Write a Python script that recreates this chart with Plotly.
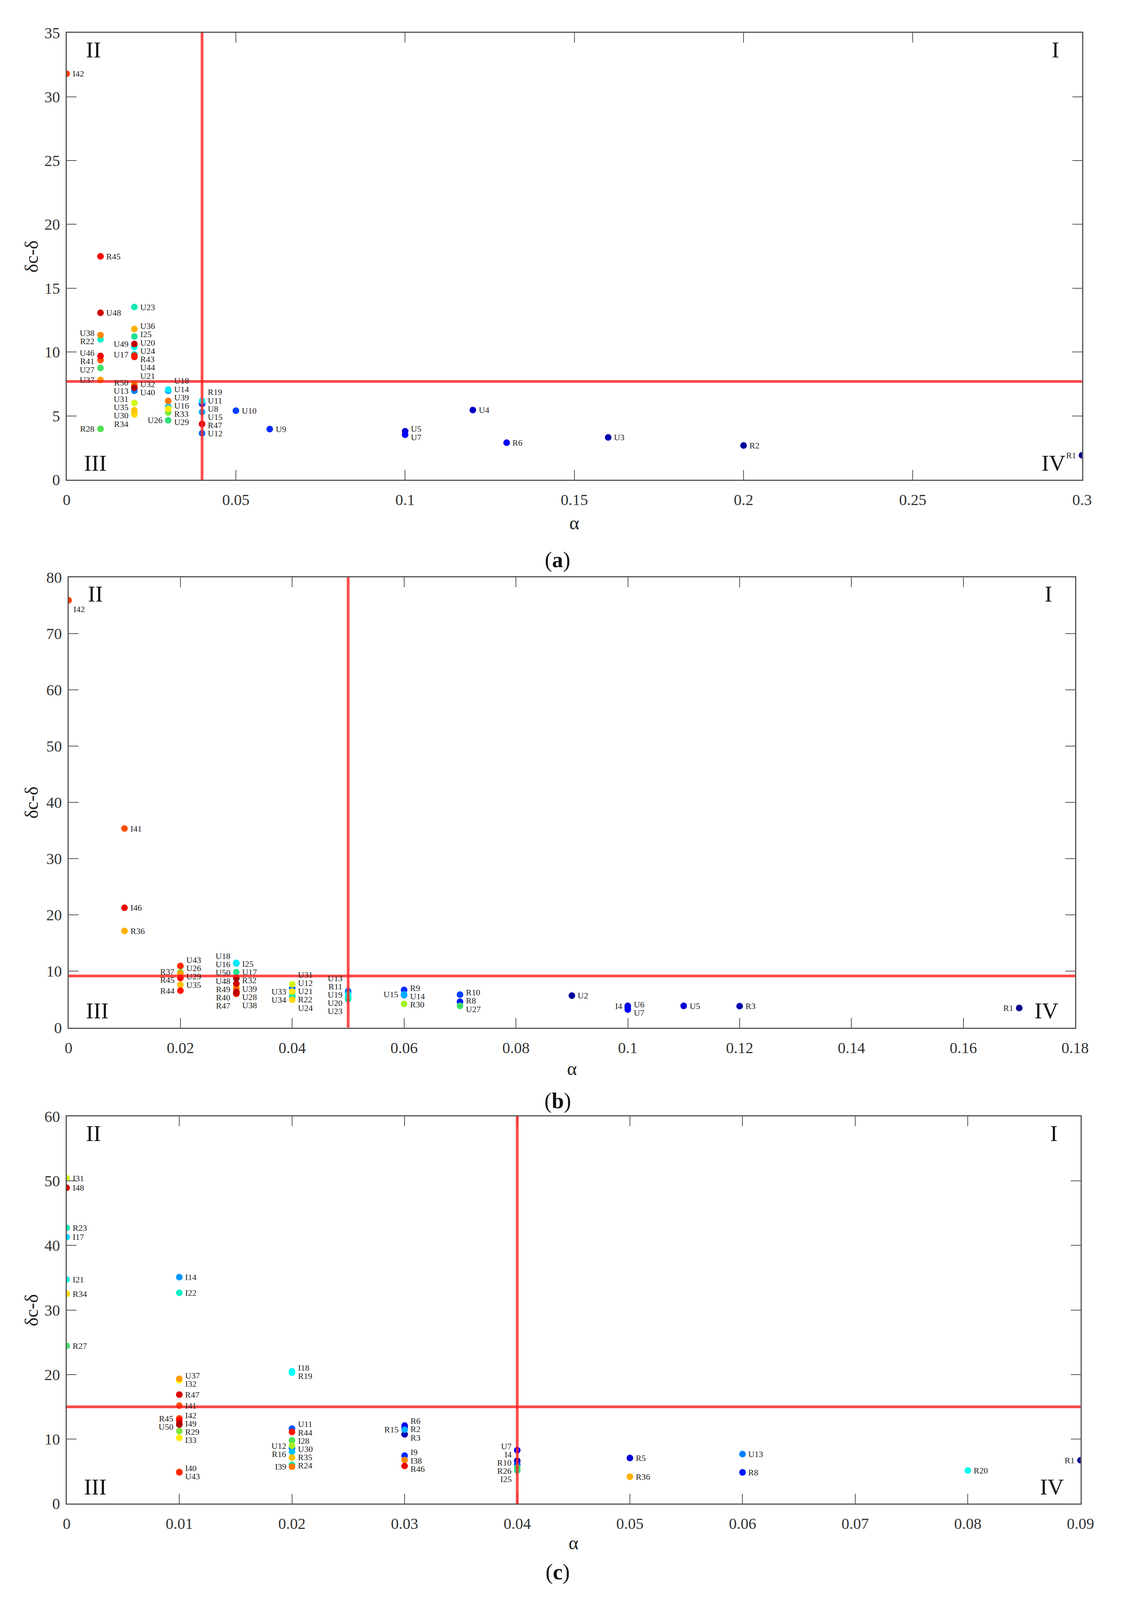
import re
import plotly.graph_objects as go

W, H = 2891, 5145
FONT = "Liberation Serif"

# ---------------- panel (a) ----------------
a_labels = ["I42", "R45", "U48", "U38", "R22", "U46", "R41", "U27", "U37", "R28",
            "U23", "U36", "I25", "U49", "U20", "U17", "U24", "R43", "U44", "U21",
            "U32", "U40", "R50", "U13", "U31", "U35", "U30", "R34",
            "U18", "U14", "U39", "U16", "R33", "U29", "U26",
            "R19", "U11", "U8", "U15", "R47", "U12",
            "U10", "U9", "U5", "U7", "U4", "R6", "U3", "R2", "R1"]
a_alpha = [0, 0.01, 0.01, 0.01, 0.01, 0.01, 0.01, 0.01, 0.01, 0.01,
           0.02, 0.02, 0.02, 0.02, 0.02, 0.02, 0.02, 0.02, 0.02, 0.02,
           0.02, 0.02, 0.02, 0.02, 0.02, 0.02, 0.02, 0.02,
           0.03, 0.03, 0.03, 0.03, 0.03, 0.03, 0.03,
           0.04, 0.04, 0.04, 0.04, 0.04, 0.04,
           0.05, 0.06, 0.1, 0.1, 0.12, 0.13, 0.16, 0.2, 0.3]
a_delta = [31.8, 17.5, 13.08, 11.33, 11.0, 9.7, 9.38, 8.76, 7.82, 3.99,
           13.53, 11.81, 11.22, 10.63, 10.4, 9.82, 9.76, 9.72, 9.62, 7.55,
           7.5, 7.4, 7.2, 6.97, 6.02, 5.45, 5.25, 5.12,
           7.07, 6.97, 6.18, 5.73, 5.57, 5.27, 4.66,
           6.18, 6.05, 5.95, 5.3, 4.37, 3.64,
           5.41, 3.97, 3.8, 3.53, 5.46, 2.91, 3.32, 2.69, 1.92]
a_left = {"U38", "R22", "U46", "R41", "U27", "U37", "R28", "U49", "U17", "R50",
          "U13", "U31", "U35", "U30", "R34", "U26", "R1"}
a_below = set()
a_cut = (0.04, 7.7)
a_xticks = [0, 0.05, 0.1, 0.15, 0.2, 0.25, 0.3]
a_yticks = [0, 5, 10, 15, 20, 25, 30, 35]

# ---------------- panel (b) ----------------
b_labels = ["I42", "I41", "I46", "R36",
            "U43", "U26", "U29", "R37", "R45", "U35", "R44",
            "U18", "U16", "I25", "U50", "U17", "U48", "R32", "U39", "U28",
            "R49", "R40", "R47", "U38",
            "U31", "U12", "U33", "U21", "R22", "U24", "U34",
            "U13", "R11", "U19", "U20", "U23",
            "R9", "U15", "U14", "R30", "R10", "R8", "U27", "U2",
            "I4", "U6", "U7", "U5", "R3", "R1"]
b_alpha = [0, 0.01, 0.01, 0.01,
           0.02, 0.02, 0.02, 0.02, 0.02, 0.02, 0.02,
           0.03, 0.03, 0.03, 0.03, 0.03, 0.03, 0.03, 0.03, 0.03,
           0.03, 0.03, 0.03, 0.03,
           0.04, 0.04, 0.04, 0.04, 0.04, 0.04, 0.04,
           0.05, 0.05, 0.05, 0.05, 0.05,
           0.06, 0.06, 0.06, 0.06, 0.07, 0.07, 0.07, 0.09,
           0.1, 0.1, 0.1, 0.11, 0.12, 0.17]
b_delta = [75.9, 35.36, 21.3, 17.17,
           10.96, 10.9, 9.8, 9.6, 8.8, 7.6, 6.56,
           11.5, 11.4, 9.84, 8.8, 8.7, 7.79, 7.45, 6.95, 6.9,
           6.35, 6.2, 6.05, 6.0,
           7.7, 7.02, 6.41, 6.3, 5.68, 5.5, 4.95,
           6.5, 6.3, 5.86, 5.5, 5.04,
           6.68, 5.9, 5.75, 4.21, 5.86, 4.58, 3.85, 5.68,
           3.85, 3.6, 3.2, 3.85, 3.81, 3.48]
b_left = {"R37", "R45", "R44", "U18", "U16", "U50", "U48", "R49", "R40", "R47",
          "U33", "U34", "U13", "R11", "U19", "U20", "U23", "U15", "I4", "R1"}
b_below = {"I42"}
b_cut = (0.05, 9.16)
b_xticks = [0, 0.02, 0.04, 0.06, 0.08, 0.1, 0.12, 0.14, 0.16, 0.18]
b_yticks = [0, 10, 20, 30, 40, 50, 60, 70, 80]

# ---------------- panel (c) ----------------
c_labels = ["I31", "I48", "R23", "I17", "I21", "R34", "R27",
            "I14", "I22", "U37", "I32", "R47", "I41", "I42", "R45", "I49", "U50",
            "R29", "I33", "I40", "U43",
            "I18", "R19", "U11", "R44", "I28", "U30", "U12", "R16", "R35", "R24", "I39",
            "R6", "R2", "R15", "R3", "I9", "I38", "R46",
            "U7", "I4", "R10", "R26", "I25",
            "R5", "R36", "U13", "R8", "R20", "R1"]
c_alpha = [0, 0, 0, 0, 0, 0, 0,
           0.01, 0.01, 0.01, 0.01, 0.01, 0.01, 0.01, 0.01, 0.01, 0.01,
           0.01, 0.01, 0.01, 0.01,
           0.02, 0.02, 0.02, 0.02, 0.02, 0.02, 0.02, 0.02, 0.02, 0.02, 0.02,
           0.03, 0.03, 0.03, 0.03, 0.03, 0.03, 0.03,
           0.04, 0.04, 0.04, 0.04, 0.04,
           0.05, 0.05, 0.06, 0.06, 0.08, 0.09]
c_delta = [50.42, 48.94, 42.73, 41.3, 34.73, 32.52, 24.45,
           35.09, 32.67, 19.35, 19.1, 16.89, 15.18, 13.2, 12.85, 12.4, 12.25,
           11.25, 10.19, 4.9, 4.85,
           20.49, 20.3, 11.62, 11.11, 9.79, 9.0, 8.6, 8.05, 7.15, 5.99, 5.72,
           12.1, 11.74, 11.46, 10.73, 7.44, 6.75, 5.84,
           8.28, 6.64, 6.08, 5.6, 5.13,
           7.07, 4.17, 7.67, 4.84, 5.13, 6.72]
c_left = {"R45", "U50", "U12", "R16", "I39", "R15", "U7", "I4", "R10", "R26", "I25", "R1"}
c_below = set()
c_cut = (0.04, 15)
c_xticks = [0, 0.01, 0.02, 0.03, 0.04, 0.05, 0.06, 0.07, 0.08, 0.09]
c_yticks = [0, 10, 20, 30, 40, 50, 60]

# jet-like map over sample numbers 1..50 (points coloured by the number in the label)
JET50 = [[0, "#00008A"], [6 / 49, "#0000FF"], [18 / 49, "#00FFFF"],
         [24 / 49, "#20E090"], [27 / 49, "#50E050"], [31 / 49, "#FFFF00"],
         [44 / 49, "#FF0000"], [1, "#B00000"]]

# plot-area boxes in page pixels (left, right, top, bottom) and text offsets below the axis
panels = [
    dict(lab=a_labels, x=a_alpha, y=a_delta, left=a_left, below=a_below, cut=a_cut,
         xt=a_xticks, yt=a_yticks, box=(156, 2812, 69, 1528), cap="a",
         alpha_dy=110, cap_dy=205),
    dict(lab=b_labels, x=b_alpha, y=b_delta, left=b_left, below=b_below, cut=b_cut,
         xt=b_xticks, yt=b_yticks, box=(161, 2794, 1846, 3316), cap="b",
         alpha_dy=105, cap_dy=188),
    dict(lab=c_labels, x=c_alpha, y=c_delta, left=c_left, below=c_below, cut=c_cut,
         xt=c_xticks, yt=c_yticks, box=(156, 2808, 3606, 4870), cap="c",
         alpha_dy=100, cap_dy=175),
]


def spread(desired, gap):
    # push overlapping labels apart, keeping each stack centred on its points
    clusters = [[d] for d in desired]

    def start(c):
        return sum(d - k * gap for k, d in enumerate(c)) / len(c)

    merged = True
    while merged:
        merged = False
        for i in range(len(clusters) - 1):
            if start(clusters[i]) + len(clusters[i]) * gap > start(clusters[i + 1]):
                clusters[i] = clusters[i] + clusters[i + 1]
                del clusters[i + 1]
                merged = True
                break
    out = []
    for c in clusters:
        s = start(c)
        out += [s + k * gap for k in range(len(c))]
    return out


fig = go.Figure()
annotations = []
shapes = []
layout = {}

for i, p in enumerate(panels):
    n = "" if i == 0 else str(i + 1)
    xa, ya = "x" + n, "y" + n
    l, r, t, b = p["box"]
    xmax, ymax = p["xt"][-1], p["yt"][-1]
    ppu = (b - t) / ymax

    nums = [int(re.sub(r"\D", "", s)) for s in p["lab"]]
    order = sorted(range(len(nums)), key=lambda k: nums[k])
    fig.add_trace(go.Scatter(
        x=[p["x"][k] for k in order], y=[p["y"][k] for k in order],
        mode="markers", xaxis=xa, yaxis=ya, showlegend=False,
        marker=dict(size=17, color=[nums[k] for k in order], colorscale=JET50,
                    cmin=1, cmax=50, line=dict(width=0)),
        hovertext=[p["lab"][k] for k in order], hoverinfo="text",
    ))

    # point labels
    groups = {}
    for k, s in enumerate(p["lab"]):
        if s in p["below"]:
            annotations.append(dict(
                x=p["x"][k], y=p["y"][k], xref=xa, yref=ya, text=s, showarrow=False,
                xanchor="left", xshift=10, yanchor="top", yshift=-8,
                font=dict(family=FONT, size=22, color="#222")))
            continue
        side = "l" if s in p["left"] else "r"
        groups.setdefault((round(p["x"][k], 4), side), []).append(k)
    for (gx, side), ks in groups.items():
        ks.sort(key=lambda k: -p["y"][k])
        pos = spread([(ymax - p["y"][k]) * ppu for k in ks], 27)
        for k, py in zip(ks, pos):
            annotations.append(dict(
                x=p["x"][k], y=ymax - py / ppu, xref=xa, yref=ya, text=p["lab"][k],
                showarrow=False, xanchor="right" if side == "l" else "left",
                xshift=-13 if side == "l" else 13, yanchor="middle",
                font=dict(family=FONT, size=22, color="#222")))

    # threshold lines
    ax, ay = p["cut"]
    shapes.append(dict(type="line", xref=xa, yref=ya + " domain", x0=ax, x1=ax, y0=0, y1=1,
                       line=dict(color="rgba(255,30,30,0.8)", width=7)))
    shapes.append(dict(type="line", xref=xa + " domain", yref=ya, x0=0, x1=1, y0=ay, y1=ay,
                       line=dict(color="rgba(255,30,30,0.8)", width=7)))

    common = dict(showgrid=False, zeroline=False, showline=True, linecolor="#555",
                  linewidth=3, mirror="ticks", ticks="inside", ticklen=25, tickwidth=2,
                  tickcolor="#555", tickfont=dict(family=FONT, size=40, color="#333"))
    layout["xaxis" + n] = dict(common, domain=[l / W, r / W], anchor=ya, range=[0, xmax],
                               tickvals=p["xt"], ticklabelstandoff=14)
    layout["yaxis" + n] = dict(common, domain=[1 - b / H, 1 - t / H], anchor=xa,
                               range=[0, ymax], tickvals=p["yt"], ticklabelstandoff=6)

    # quadrant numerals
    for txt, px, py in [("II", l + 70, t + 55), ("I", r - 70, t + 55),
                        ("III", l + 75, b - 55), ("IV", r - 75, b - 55)]:
        annotations.append(dict(x=px / W, y=1 - py / H, xref="paper", yref="paper",
                                text=txt, showarrow=False, xanchor="center",
                                yanchor="middle", font=dict(family=FONT, size=58, color="#111")))

    # axis titles and caption (offsets below the axis kept in pixels)
    annotations.append(dict(x=(l + r) / 2 / W, y=1 - b / H, xref="paper", yref="paper",
                            text="α", showarrow=False, xanchor="center", yanchor="middle",
                            yshift=-p["alpha_dy"],
                            font=dict(family=FONT, size=48, color="#222")))
    annotations.append(dict(x=64 / W, y=1 - (t + b) / 2 / H, xref="paper", yref="paper",
                            text="δc-δ", textangle=-90, showarrow=False,
                            xanchor="center", yanchor="middle",
                            font=dict(family=FONT, size=48, color="#222")))
    annotations.append(dict(x=1440 / W, y=1 - b / H, xref="paper", yref="paper",
                            text="(<b>" + p["cap"] + "</b>)", showarrow=False,
                            xanchor="center", yanchor="middle", yshift=-p["cap_dy"],
                            font=dict(family=FONT, size=56, color="#111")))

fig.update_layout(
    autosize=True, margin=dict(l=0, r=0, t=0, b=0),
    paper_bgcolor="white", plot_bgcolor="white",
    annotations=annotations, shapes=shapes, **layout)

# fill the browser window so the whole figure is always in view
fig.write_html("out.html", default_width="100%", default_height="calc(100vh - 16px)")
